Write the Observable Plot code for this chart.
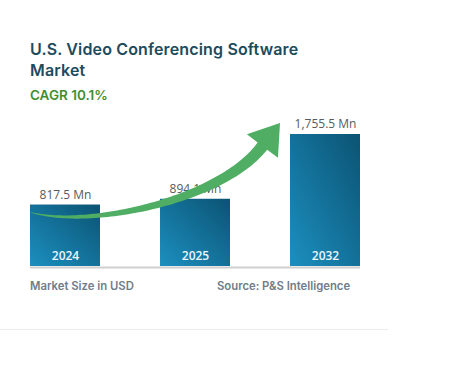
<!DOCTYPE html>
<html>
<head>
<meta charset="utf-8">
<script src="https://cdn.jsdelivr.net/npm/d3@7"></script>
<script src="https://cdn.jsdelivr.net/npm/@observablehq/plot@0.6"></script>
<style>
  body { margin: 0; background: #fff; }
  #wrap { position: relative; width: 451px; height: 371px; overflow: hidden; font-family: Inter, "Open Sans", sans-serif; }
  .abs { position: absolute; white-space: nowrap; }
  #title { left: 30px; top: 39px; font-size: 16px; line-height: 21px; font-weight: 600; color: #1d4b5c; letter-spacing: 0.15px; }
  #cagr { left: 30px; top: 86px; font-size: 13.5px; line-height: 18px; font-weight: 600; color: #3e8f32; }
  .foot { top: 278px; font-size: 11.3px; line-height: 16px; font-weight: 600; color: #6f7c8a; }
  #sep { left: 0; top: 329px; width: 388px; height: 1px; background: #ececec; }
  #chart { left: 0; top: 110px; }
</style>
</head>
<body>
<div id="wrap">
  <div class="abs" id="title">U.S. Video Conferencing Software<br>Market</div>
  <div class="abs" id="cagr">CAGR 10.1%</div>
  <div class="abs" id="chart"></div>
  <div class="abs foot" style="left:30px">Market Size in USD</div>
  <div class="abs foot" style="left:217px">Source: P&amp;S Intelligence</div>
  <div class="abs" id="sep"></div>
</div>
<script>
const years = ["2024", "2025", "2032"];
const values = [817.5, 894.1, 1755.5];
const valueLabels = ["817.5 Mn", "894.1 Mn", "1,755.5 Mn"];
const arrowStartValue = 710;
const arrowTipValue = 1902;

const data = years.map((year, i) => ({year, value: values[i], label: valueLabels[i]}));

function arrowMark(index, scales, vals, dims) {
  const x = scales.x, y = scales.y;
  const S = [x("2024") + 1, y(arrowStartValue)];
  const T = [x("2032") - 10, y(arrowTipValue)];
  const ang = Math.atan2(-23, 17.5);
  const dir = [Math.cos(ang), Math.sin(ang)];
  const headLen = 29, headHalf = 19.5;
  const E = [T[0] - dir[0] * headLen, T[1] - dir[1] * headLen];
  const C1 = [S[0] + 62, S[1] + 16];
  const C2 = [E[0] - 40, E[1] + 53];
  const N = 80, upper = [], lower = [];
  for (let i = 0; i <= N; i++) {
    const t = i / N, u = 1 - t;
    const px = u*u*u*S[0] + 3*u*u*t*C1[0] + 3*u*t*t*C2[0] + t*t*t*E[0];
    const py = u*u*u*S[1] + 3*u*u*t*C1[1] + 3*u*t*t*C2[1] + t*t*t*E[1];
    const dx = 3*u*u*(C1[0]-S[0]) + 6*u*t*(C2[0]-C1[0]) + 3*t*t*(E[0]-C2[0]);
    const dy = 3*u*u*(C1[1]-S[1]) + 6*u*t*(C2[1]-C1[1]) + 3*t*t*(E[1]-C2[1]);
    const len = Math.hypot(dx, dy) || 1;
    const nx = -dy / len, ny = dx / len;
    const w = (0.5 + 11.5 * Math.pow(t, 0.85)) / 2;
    upper.push([px + nx * w, py + ny * w]);
    lower.push([px - nx * w, py - ny * w]);
  }
  const nrm = [-dir[1], dir[0]];
  const W1 = [E[0] + nrm[0] * headHalf, E[1] + nrm[1] * headHalf];
  const W2 = [E[0] - nrm[0] * headHalf, E[1] - nrm[1] * headHalf];
  const pts = [...upper, W1, T, W2, ...lower.reverse()];
  const path = d3.create("svg:path")
    .attr("d", "M" + pts.map(p => p[0].toFixed(2) + "," + p[1].toFixed(2)).join("L") + "Z")
    .attr("fill", "#4fae63");
  return path.node();
}

const chart = Plot.plot({
  width: 451,
  height: 170,
  marginLeft: 30,
  marginRight: 91,
  marginTop: 5.6,
  marginBottom: 14,
  style: {fontFamily: "'Open Sans', sans-serif", background: "transparent"},
  x: {domain: years, paddingInner: 60/130, paddingOuter: 0, axis: null},
  y: {domain: [0, 2000], axis: null},
  marks: [
    Plot.ruleY([0], {stroke: "#cfcfcf", strokeWidth: 2, dy: 1}),
    Plot.barY(data, {x: "year", y: "value", fill: "url(#barGrad)"}),
    Plot.text(data, {x: "year", y: 0, text: "year", fill: "#eaf6fb", fontSize: 12, fontWeight: 600, lineAnchor: "bottom", dy: -7}),
    Plot.text(data, {x: "year", y: "value", text: "label", fill: "#555b60", fontSize: 12, lineAnchor: "bottom", dy: -6}),
    arrowMark
  ]
});

d3.select(chart).insert("defs", ":first-child").html(
  '<linearGradient id="barGrad" x1="0" y1="1" x2="1" y2="0">' +
  '<stop offset="0" stop-color="#1c8fbf"/>' +
  '<stop offset="1" stop-color="#0b5373"/>' +
  '</linearGradient>');

document.getElementById("chart").appendChild(chart);
</script>
</body>
</html>
